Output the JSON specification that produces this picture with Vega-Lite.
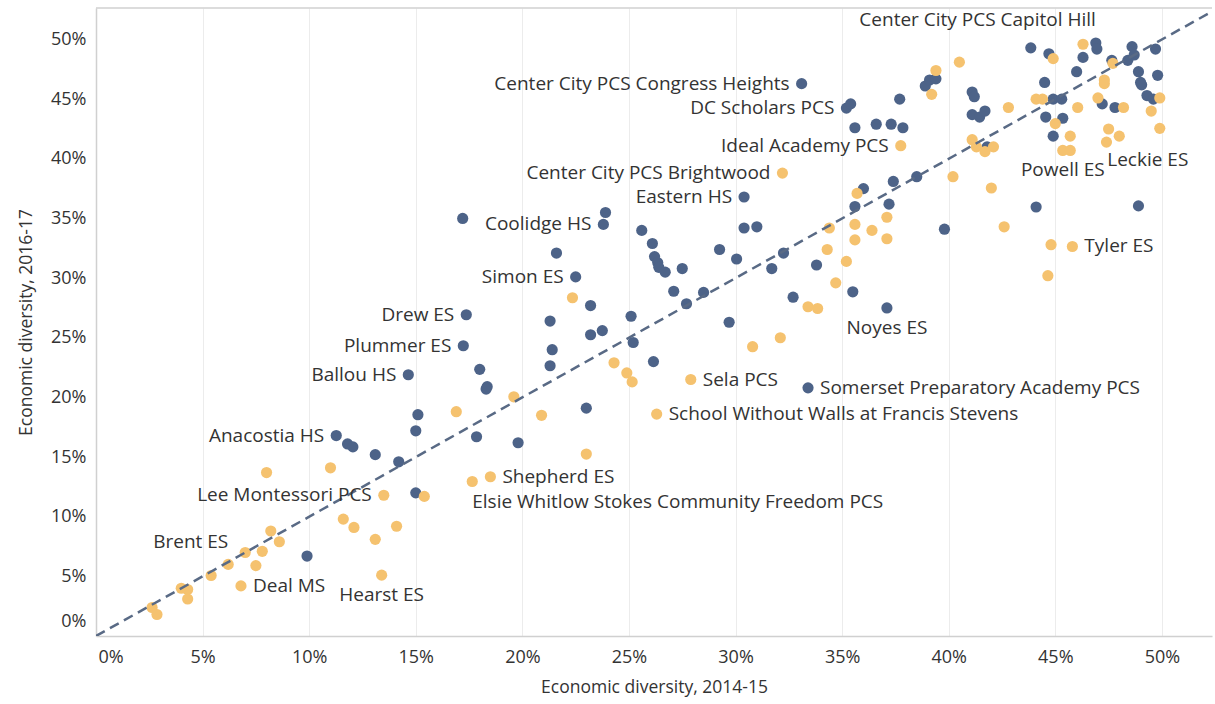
{
  "$schema": "https://vega.github.io/schema/vega-lite/v6.json",
  "width": 1116,
  "height": 628,
  "autosize": {"type": "none"},
  "padding": {"left": 96, "top": 8, "right": 3, "bottom": 68},
  "background": "#ffffff",
  "config": {
    "view": {"stroke": null},
    "font": "Open Sans",
    "axis": {
      "labelFont": "Open Sans",
      "titleFont": "Open Sans",
      "labelFontSize": 18,
      "titleFontSize": 17.5,
      "titleFontWeight": "normal",
      "labelColor": "#333333",
      "titleColor": "#333333",
      "gridColor": "#ececec",
      "gridWidth": 1,
      "domainColor": "#d0d0d0",
      "domainWidth": 1.5,
      "ticks": false
    }
  },
  "datasets": {
    "schools": [
      {"x": 9.9, "y": 6.7, "group": "A"},
      {"x": 15.0, "y": 12.0, "group": "A"},
      {"x": 17.37, "y": 26.93, "group": "A", "school": "Drew ES"},
      {"x": 17.23, "y": 24.33, "group": "A", "school": "Plummer ES"},
      {"x": 14.65, "y": 21.9, "group": "A", "school": "Ballou HS"},
      {"x": 18.0, "y": 22.35, "group": "A"},
      {"x": 15.1, "y": 18.55, "group": "A"},
      {"x": 15.0, "y": 17.2, "group": "A"},
      {"x": 17.85, "y": 16.7, "group": "A"},
      {"x": 11.27, "y": 16.8, "group": "A", "school": "Anacostia HS"},
      {"x": 11.8, "y": 16.1, "group": "A"},
      {"x": 12.05, "y": 15.85, "group": "A"},
      {"x": 13.1, "y": 15.2, "group": "A"},
      {"x": 14.2, "y": 14.6, "group": "A"},
      {"x": 17.2, "y": 35.0, "group": "A"},
      {"x": 23.9, "y": 35.5, "group": "A"},
      {"x": 23.8, "y": 34.5, "group": "A", "school": "Coolidge HS"},
      {"x": 25.6, "y": 34.0, "group": "A"},
      {"x": 26.1, "y": 32.9, "group": "A"},
      {"x": 26.2, "y": 31.8, "group": "A"},
      {"x": 26.35, "y": 31.3, "group": "A"},
      {"x": 26.4, "y": 30.9, "group": "A"},
      {"x": 26.7, "y": 30.5, "group": "A"},
      {"x": 27.5, "y": 30.8, "group": "A"},
      {"x": 27.1, "y": 28.9, "group": "A"},
      {"x": 21.6, "y": 32.1, "group": "A"},
      {"x": 22.5, "y": 30.1, "group": "A", "school": "Simon ES"},
      {"x": 23.2, "y": 27.7, "group": "A"},
      {"x": 21.3, "y": 26.4, "group": "A"},
      {"x": 23.2, "y": 25.25, "group": "A"},
      {"x": 23.75, "y": 25.6, "group": "A"},
      {"x": 25.1, "y": 26.8, "group": "A"},
      {"x": 25.2, "y": 24.6, "group": "A"},
      {"x": 21.4, "y": 24.0, "group": "A"},
      {"x": 21.3, "y": 22.65, "group": "A"},
      {"x": 27.7, "y": 27.85, "group": "A"},
      {"x": 28.5, "y": 28.8, "group": "A"},
      {"x": 29.25, "y": 32.4, "group": "A"},
      {"x": 30.05, "y": 31.6, "group": "A"},
      {"x": 30.4, "y": 34.2, "group": "A"},
      {"x": 31.0, "y": 34.3, "group": "A"},
      {"x": 29.7, "y": 26.3, "group": "A"},
      {"x": 32.7, "y": 28.4, "group": "A"},
      {"x": 31.7, "y": 30.8, "group": "A"},
      {"x": 32.25, "y": 32.1, "group": "A"},
      {"x": 33.8, "y": 31.1, "group": "A"},
      {"x": 35.5, "y": 28.85, "group": "A"},
      {"x": 35.6, "y": 36.0, "group": "A"},
      {"x": 26.15, "y": 23.0, "group": "A"},
      {"x": 23.0, "y": 19.1, "group": "A"},
      {"x": 18.35, "y": 20.9, "group": "A"},
      {"x": 18.3, "y": 20.7, "group": "A"},
      {"x": 33.4, "y": 20.8, "group": "A", "school": "Somerset Preparatory Academy PCS"},
      {"x": 19.8, "y": 16.2, "group": "A"},
      {"x": 37.2, "y": 36.2, "group": "A"},
      {"x": 39.8, "y": 34.1, "group": "A"},
      {"x": 44.1, "y": 35.96, "group": "A"},
      {"x": 48.9, "y": 36.05, "group": "A"},
      {"x": 37.1, "y": 27.5, "group": "A", "school": "Noyes ES"},
      {"x": 33.1, "y": 46.3, "group": "A", "school": "Center City PCS Congress Heights"},
      {"x": 35.2, "y": 44.25, "group": "A", "school": "DC Scholars PCS"},
      {"x": 35.4, "y": 44.6, "group": "A"},
      {"x": 35.6, "y": 42.6, "group": "A"},
      {"x": 36.6, "y": 42.9, "group": "A"},
      {"x": 30.4, "y": 36.8, "group": "A", "school": "Eastern HS"},
      {"x": 36.0, "y": 37.5, "group": "A"},
      {"x": 43.85, "y": 49.3, "group": "A"},
      {"x": 44.7, "y": 48.8, "group": "A"},
      {"x": 46.9, "y": 49.7, "group": "A", "school": "Center City PCS Capitol Hill"},
      {"x": 46.95, "y": 49.2, "group": "A"},
      {"x": 46.3, "y": 48.5, "group": "A"},
      {"x": 47.65, "y": 48.25, "group": "A"},
      {"x": 48.6, "y": 49.4, "group": "A"},
      {"x": 48.4, "y": 48.25, "group": "A"},
      {"x": 48.7, "y": 48.7, "group": "A"},
      {"x": 49.7, "y": 49.2, "group": "A"},
      {"x": 46.0, "y": 47.3, "group": "A"},
      {"x": 44.5, "y": 46.4, "group": "A"},
      {"x": 48.9, "y": 47.3, "group": "A"},
      {"x": 49.8, "y": 47.0, "group": "A"},
      {"x": 49.0, "y": 46.4, "group": "A"},
      {"x": 49.05, "y": 46.2, "group": "A"},
      {"x": 49.3, "y": 45.3, "group": "A"},
      {"x": 49.6, "y": 45.0, "group": "A"},
      {"x": 44.9, "y": 45.0, "group": "A"},
      {"x": 45.3, "y": 45.0, "group": "A"},
      {"x": 47.2, "y": 44.6, "group": "A"},
      {"x": 47.8, "y": 44.3, "group": "A"},
      {"x": 44.55, "y": 43.5, "group": "A"},
      {"x": 45.35, "y": 43.4, "group": "A"},
      {"x": 44.9, "y": 41.9, "group": "A"},
      {"x": 41.8, "y": 41.0, "group": "A"},
      {"x": 41.1, "y": 45.6, "group": "A"},
      {"x": 41.2, "y": 45.2, "group": "A"},
      {"x": 41.1, "y": 43.7, "group": "A"},
      {"x": 41.45, "y": 43.5, "group": "A"},
      {"x": 41.7, "y": 44.0, "group": "A"},
      {"x": 38.9, "y": 46.1, "group": "A"},
      {"x": 39.1, "y": 46.6, "group": "A"},
      {"x": 39.4, "y": 46.7, "group": "A"},
      {"x": 37.7, "y": 45.0, "group": "A"},
      {"x": 37.3, "y": 42.9, "group": "A"},
      {"x": 37.85, "y": 42.6, "group": "A"},
      {"x": 37.4, "y": 38.1, "group": "A"},
      {"x": 38.5, "y": 38.5, "group": "A"},
      {"x": 2.63, "y": 2.39, "group": "B"},
      {"x": 2.86, "y": 1.8, "group": "B"},
      {"x": 4.0, "y": 4.0, "group": "B"},
      {"x": 4.3, "y": 3.9, "group": "B"},
      {"x": 4.3, "y": 3.1, "group": "B"},
      {"x": 5.4, "y": 5.07, "group": "B"},
      {"x": 6.2, "y": 6.0, "group": "B"},
      {"x": 6.8, "y": 4.2, "group": "B", "school": "Deal MS"},
      {"x": 7.0, "y": 7.0, "group": "B", "school": "Brent ES"},
      {"x": 7.5, "y": 5.9, "group": "B"},
      {"x": 7.8, "y": 7.1, "group": "B"},
      {"x": 8.2, "y": 8.8, "group": "B"},
      {"x": 8.6, "y": 7.9, "group": "B"},
      {"x": 11.6, "y": 9.8, "group": "B"},
      {"x": 12.1, "y": 9.1, "group": "B"},
      {"x": 13.1, "y": 8.1, "group": "B"},
      {"x": 13.4, "y": 5.1, "group": "B", "school": "Hearst ES"},
      {"x": 13.5, "y": 11.8, "group": "B", "school": "Lee Montessori PCS"},
      {"x": 14.1, "y": 9.2, "group": "B"},
      {"x": 15.4, "y": 11.7, "group": "B"},
      {"x": 16.9, "y": 18.8, "group": "B"},
      {"x": 11.0, "y": 14.1, "group": "B"},
      {"x": 8.0, "y": 13.7, "group": "B"},
      {"x": 17.65, "y": 12.95, "group": "B", "school": "Elsie Whitlow Stokes Community Freedom PCS"},
      {"x": 22.35, "y": 28.35, "group": "B"},
      {"x": 24.3, "y": 22.9, "group": "B"},
      {"x": 24.9, "y": 22.05, "group": "B"},
      {"x": 25.15, "y": 21.3, "group": "B"},
      {"x": 27.9, "y": 21.5, "group": "B", "school": "Sela PCS"},
      {"x": 26.3, "y": 18.6, "group": "B", "school": "School Without Walls at Francis Stevens"},
      {"x": 19.6, "y": 20.05, "group": "B"},
      {"x": 20.9, "y": 18.5, "group": "B"},
      {"x": 30.8, "y": 24.25, "group": "B"},
      {"x": 32.1, "y": 25.0, "group": "B"},
      {"x": 33.4, "y": 27.6, "group": "B"},
      {"x": 33.85, "y": 27.45, "group": "B"},
      {"x": 34.7, "y": 29.6, "group": "B"},
      {"x": 35.2, "y": 31.4, "group": "B"},
      {"x": 34.3, "y": 32.4, "group": "B"},
      {"x": 34.4, "y": 34.2, "group": "B"},
      {"x": 35.6, "y": 34.5, "group": "B"},
      {"x": 35.6, "y": 33.2, "group": "B"},
      {"x": 37.1, "y": 35.1, "group": "B"},
      {"x": 36.4, "y": 34.0, "group": "B"},
      {"x": 37.1, "y": 33.3, "group": "B"},
      {"x": 42.6, "y": 34.3, "group": "B"},
      {"x": 44.8, "y": 32.8, "group": "B"},
      {"x": 45.8, "y": 32.65, "group": "B", "school": "Tyler ES"},
      {"x": 44.65, "y": 30.2, "group": "B"},
      {"x": 23.0, "y": 15.25, "group": "B"},
      {"x": 18.5, "y": 13.35, "group": "B", "school": "Shepherd ES"},
      {"x": 32.2, "y": 38.8, "group": "B", "school": "Center City PCS Brightwood"},
      {"x": 35.7, "y": 37.1, "group": "B"},
      {"x": 39.4, "y": 47.4, "group": "B"},
      {"x": 39.2, "y": 45.4, "group": "B"},
      {"x": 40.5, "y": 48.1, "group": "B"},
      {"x": 44.9, "y": 48.4, "group": "B"},
      {"x": 46.3, "y": 49.6, "group": "B"},
      {"x": 47.3, "y": 46.6, "group": "B"},
      {"x": 47.3, "y": 46.3, "group": "B"},
      {"x": 47.7, "y": 48.0, "group": "B"},
      {"x": 47.0, "y": 45.1, "group": "B"},
      {"x": 48.2, "y": 44.3, "group": "B"},
      {"x": 46.05, "y": 44.3, "group": "B"},
      {"x": 44.1, "y": 45.0, "group": "B"},
      {"x": 44.4, "y": 45.0, "group": "B"},
      {"x": 42.8, "y": 44.3, "group": "B"},
      {"x": 49.5, "y": 44.0, "group": "B"},
      {"x": 49.9, "y": 45.1, "group": "B"},
      {"x": 49.9, "y": 42.55, "group": "B", "school": "Leckie ES"},
      {"x": 47.5, "y": 42.5, "group": "B"},
      {"x": 48.0, "y": 41.9, "group": "B"},
      {"x": 47.4, "y": 41.4, "group": "B"},
      {"x": 45.0, "y": 42.95, "group": "B"},
      {"x": 45.7, "y": 41.9, "group": "B"},
      {"x": 45.35, "y": 40.7, "group": "B", "school": "Powell ES"},
      {"x": 45.7, "y": 40.7, "group": "B"},
      {"x": 41.1, "y": 41.6, "group": "B"},
      {"x": 41.3, "y": 41.0, "group": "B"},
      {"x": 41.7, "y": 40.6, "group": "B"},
      {"x": 42.1, "y": 41.0, "group": "B"},
      {"x": 37.75, "y": 41.1, "group": "B", "school": "Ideal Academy PCS"},
      {"x": 40.2, "y": 38.5, "group": "B"},
      {"x": 42.0, "y": 37.55, "group": "B"}
    ],
    "parity": [
      {"x": 0, "y": 0},
      {"x": 53, "y": 53}
    ]
  },
  "layer": [
    {
      "data": {"values": [{}]},
      "mark": {"type": "rule", "color": "#d0d0d0", "strokeWidth": 1.5},
      "encoding": {
        "y": {"datum": 52.64, "type": "quantitative", "title": "Economic diversity, 2016-17"}
      }
    },
    {
      "data": {"name": "schools"},
      "mark": {"type": "circle", "size": 125, "opacity": 1},
      "encoding": {
        "x": {
          "field": "x", "type": "quantitative", "title": "Economic diversity, 2014-15",
          "scale": {"domain": [0, 52.35], "nice": false, "zero": false},
          "axis": {"values": [0, 5, 10, 15, 20, 25, 30, 35, 40, 45, 50], "labelExpr": "datum.value + '%'", "labelPadding": 12, "titlePadding": 12, "labelFlush": 3, "labelFlushOffset": -2}
        },
        "y": {
          "field": "y", "type": "quantitative", "title": "Economic diversity, 2016-17",
          "scale": {"domain": [0, 52.64], "nice": false, "zero": false},
          "axis": {"values": [0, 5, 10, 15, 20, 25, 30, 35, 40, 45, 50], "labelExpr": "datum.value + '%'", "labelPadding": 10, "titlePadding": 15, "labelFlush": 3, "labelFlushOffset": -6}
        },
        "color": {"field": "group", "type": "nominal", "scale": {"domain": ["A", "B"], "range": ["#4d6388", "#f5c26f"]}, "legend": null}
      }
    },
    {
      "data": {"name": "parity"},
      "mark": {"type": "line", "color": "#596a85", "strokeWidth": 2.5, "strokeDash": [10, 6], "clip": true},
      "encoding": {
        "x": {"field": "x", "type": "quantitative", "title": "Economic diversity, 2014-15"},
        "y": {"field": "y", "type": "quantitative", "title": "Economic diversity, 2016-17"}
      }
    },
    {
      "data": {"name": "schools"},
      "transform": [{"filter": {"field": "school", "oneOf": ["Sela PCS", "School Without Walls at Francis Stevens", "Somerset Preparatory Academy PCS", "Shepherd ES", "Deal MS", "Tyler ES"]}}],
      "mark": {"type": "text", "align": "left", "baseline": "middle", "dx": 12, "fontSize": 19, "font": "Open Sans", "color": "#333333"},
      "encoding": {
        "x": {"field": "x", "type": "quantitative", "title": "Economic diversity, 2014-15"},
        "y": {"field": "y", "type": "quantitative", "title": "Economic diversity, 2016-17"},
        "text": {"field": "school"}
      }
    },
    {
      "data": {"name": "schools"},
      "transform": [{"filter": {"field": "school", "oneOf": ["Center City PCS Congress Heights", "DC Scholars PCS", "Ideal Academy PCS", "Center City PCS Brightwood", "Eastern HS", "Coolidge HS", "Simon ES", "Drew ES", "Plummer ES", "Ballou HS", "Anacostia HS", "Lee Montessori PCS"]}}],
      "mark": {"type": "text", "align": "right", "baseline": "middle", "dx": -12, "fontSize": 19, "font": "Open Sans", "color": "#333333"},
      "encoding": {
        "x": {"field": "x", "type": "quantitative", "title": "Economic diversity, 2014-15"},
        "y": {"field": "y", "type": "quantitative", "title": "Economic diversity, 2016-17"},
        "text": {"field": "school"}
      }
    },
    {
      "data": {"name": "schools"},
      "transform": [{"filter": {"field": "school", "oneOf": ["Hearst ES", "Noyes ES", "Powell ES"]}}],
      "mark": {"type": "text", "align": "center", "baseline": "middle", "dy": 20, "fontSize": 19, "font": "Open Sans", "color": "#333333"},
      "encoding": {
        "x": {"field": "x", "type": "quantitative", "title": "Economic diversity, 2014-15"},
        "y": {"field": "y", "type": "quantitative", "title": "Economic diversity, 2016-17"},
        "text": {"field": "school"}
      }
    },
    {
      "data": {"name": "schools"},
      "transform": [{"filter": {"field": "school", "equal": "Leckie ES"}}],
      "mark": {"type": "text", "align": "center", "baseline": "middle", "dx": -12, "dy": 32, "fontSize": 19, "font": "Open Sans", "color": "#333333"},
      "encoding": {
        "x": {"field": "x", "type": "quantitative", "title": "Economic diversity, 2014-15"},
        "y": {"field": "y", "type": "quantitative", "title": "Economic diversity, 2016-17"},
        "text": {"field": "school"}
      }
    },
    {
      "data": {"name": "schools"},
      "transform": [{"filter": {"field": "school", "equal": "Elsie Whitlow Stokes Community Freedom PCS"}}],
      "mark": {"type": "text", "align": "left", "baseline": "middle", "dx": 0, "dy": 20, "fontSize": 19, "font": "Open Sans", "color": "#333333"},
      "encoding": {
        "x": {"field": "x", "type": "quantitative", "title": "Economic diversity, 2014-15"},
        "y": {"field": "y", "type": "quantitative", "title": "Economic diversity, 2016-17"},
        "text": {"field": "school"}
      }
    },
    {
      "data": {"name": "schools"},
      "transform": [{"filter": {"field": "school", "equal": "Brent ES"}}],
      "mark": {"type": "text", "align": "right", "baseline": "middle", "dx": -17, "dy": -10, "fontSize": 19, "font": "Open Sans", "color": "#333333"},
      "encoding": {
        "x": {"field": "x", "type": "quantitative", "title": "Economic diversity, 2014-15"},
        "y": {"field": "y", "type": "quantitative", "title": "Economic diversity, 2016-17"},
        "text": {"field": "school"}
      }
    },
    {
      "data": {"name": "schools"},
      "transform": [{"filter": {"field": "school", "equal": "Center City PCS Capitol Hill"}}],
      "mark": {"type": "text", "align": "right", "baseline": "middle", "dx": 0, "dy": -23, "fontSize": 19, "font": "Open Sans", "color": "#333333"},
      "encoding": {
        "x": {"field": "x", "type": "quantitative", "title": "Economic diversity, 2014-15"},
        "y": {"field": "y", "type": "quantitative", "title": "Economic diversity, 2016-17"},
        "text": {"field": "school"}
      }
    }
  ]
}
